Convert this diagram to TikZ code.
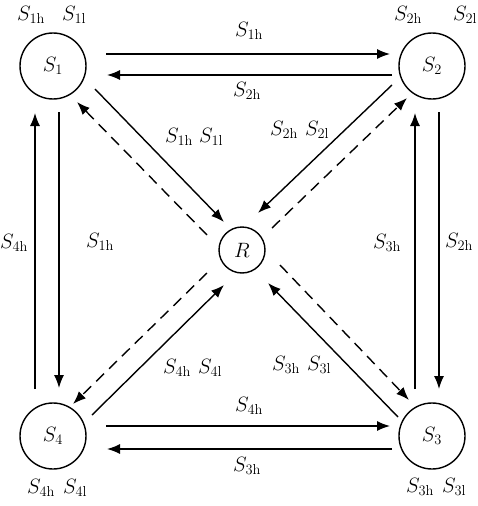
\documentclass[tikz,border=0pt]{standalone}
\usetikzlibrary{arrows.meta,calc}
\begin{document}
\begin{tikzpicture}[x=1pt,y=-1pt,
  state/.style={circle,draw,line width=1.4pt,inner sep=0pt,minimum size=66pt,font=\huge},
  relay/.style={circle,draw,line width=1.4pt,inner sep=0pt,minimum size=46pt,font=\huge},
  lbl/.style={anchor=base west,inner sep=0pt,font=\huge},
  arr/.style={line width=1.4pt,-{Latex[length=13pt,width=10pt]}},
  darr/.style={arr,dash pattern=on 11pt off 7pt}]
\useasboundingbox (0,0) rectangle (477,506);
\node[state] (S1) at (53,66) {$S_1$};
\node[state] (S2) at (432,66) {$S_2$};
\node[state] (S4) at (53,436) {$S_4$};
\node[state] (S3) at (432,436) {$S_3$};
\node[relay] (R) at (242,250) {$R$};
% horizontal
\draw[arr] ($(S1)+(53,-12)$) -- ($(S2)+(-42,-12)$);
\draw[arr] ($(S2)+(-40,9)$) -- ($(S1)+(54,9)$);
\draw[arr] ($(S4)+(53,-10)$) -- ($(S3)+(-42,-10)$);
\draw[arr] ($(S3)+(-40,13)$) -- ($(S4)+(54,13)$);
% vertical
\draw[arr] ($(S4)+(-18,-47)$) -- ($(S1)+(-18,47)$);
\draw[arr] ($(S1)+(6,46)$) -- ($(S4)+(6,-48)$);
\draw[arr] ($(S3)+(-17,-47)$) -- ($(S2)+(-17,47)$);
\draw[arr] ($(S2)+(7,46)$) -- ($(S3)+(7,-47)$);
% diagonals
\draw[arr] ($(S1)+(42,23)$) -- ($(R)+(-18,-28)$);
\draw[darr] ($(R)+(-35,-15)$) -- ($(S1)+(24,36)$);
\draw[arr] ($(S2)+(-40,19)$) -- ($(R)+(16,-37)$);
\draw[darr] ($(R)+(30,-22)$) -- ($(S2)+(-25,32)$);
\draw[arr] ($(S4)+(39,-21)$) -- ($(R)+(-18,35)$);
\draw[darr] ($(R)+(-35,23)$) -- ($(S4)+(20,-32)$);
\draw[arr] ($(S3)+(-34,-19)$) -- ($(R)+(26,33)$);
\draw[darr] ($(R)+(38,15)$) -- ($(S3)+(-23,-36)$);
% labels
\node[lbl] (a1) at (17,20) {$S_{\mathrm{1h}}$};
\node[lbl] (a2) at (62,20) {$S_{\mathrm{1l}}$};
\node[lbl] (b1) at (394,20) {$S_{\mathrm{2h}}$};
\node[lbl] (b2) at (453,20) {$S_{\mathrm{2l}}$};
\node[lbl] (c1) at (235,36) {$S_{\mathrm{1h}}$};
\node[lbl] (c2) at (233,96) {$S_{\mathrm{2h}}$};
\node[lbl] (d1) at (165,142) {$S_{\mathrm{1h}}$};
\node[lbl] (d2) at (199,142) {$S_{\mathrm{1l}}$};
\node[lbl] (e1) at (270,135) {$S_{\mathrm{2h}}$};
\node[lbl] (e2) at (305,135) {$S_{\mathrm{2l}}$};
\node[lbl] (f1) at (0,248) {$S_{\mathrm{4h}}$};
\node[lbl] (f2) at (86,247) {$S_{\mathrm{1h}}$};
\node[lbl] (g1) at (373,248) {$S_{\mathrm{3h}}$};
\node[lbl] (g2) at (445,247) {$S_{\mathrm{2h}}$};
\node[lbl] (h1) at (163,373) {$S_{\mathrm{4h}}$};
\node[lbl] (h2) at (198,373) {$S_{\mathrm{4l}}$};
\node[lbl] (i1) at (272,370) {$S_{\mathrm{3h}}$};
\node[lbl] (i2) at (307,370) {$S_{\mathrm{3l}}$};
\node[lbl] (j1) at (235,411) {$S_{\mathrm{4h}}$};
\node[lbl] (j2) at (233,471) {$S_{\mathrm{3h}}$};
\node[lbl] (k1) at (27,493) {$S_{\mathrm{4h}}$};
\node[lbl] (k2) at (63,493) {$S_{\mathrm{4l}}$};
\node[lbl] (l1) at (406,492) {$S_{\mathrm{3h}}$};
\node[lbl] (l2) at (442,492) {$S_{\mathrm{3l}}$};
\end{tikzpicture}
\end{document}
